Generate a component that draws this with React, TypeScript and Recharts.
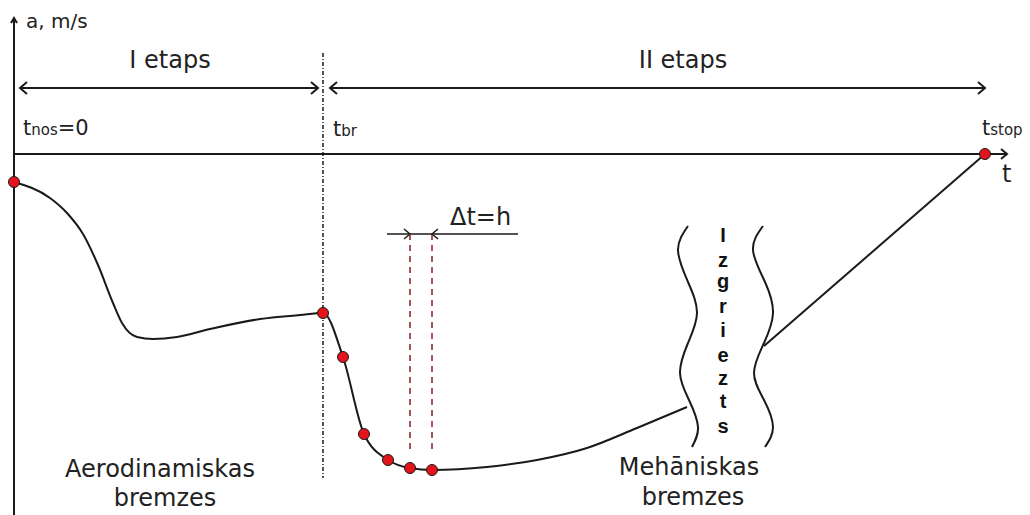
import { ComposedChart, Line, XAxis, YAxis, ReferenceLine, Customized } from 'recharts';

// time axis (t) and acceleration axis (a), schematic units
const T_DOMAIN: [number, number] = [0, 986];
const A_DOMAIN: [number, number] = [-361, 134];

// stage 1 + start of stage 2 (smooth curve up to the cut)
const curveT = [0, 36, 53, 69, 84, 99, 108, 123, 139, 163, 196, 246, 286, 309, 329, 350, 374, 396, 418, 473, 523, 573, 623, 673];
const curveA = [-28, -44, -59, -80, -111, -149, -169, -183, -185, -183, -175, -165, -161, -159, -203, -280, -306, -314, -316, -313, -306, -294, -274, -253];

// after the cut, straight to stop
const tailT = [750, 971];
const tailA = [-192, 0];

// computed points (red markers)
const markT = [0, 309, 329, 350, 374, 396, 418, 971];
const markA = [-28, -159, -203, -280, -306, -314, -316, 0];

// wavy "cut" marks
const waveLeftT = [674, 664, 674, 683, 674, 666, 675, 684, 678];
const waveRightT = [749, 739, 751, 759, 750, 740, 750, 759, 751];
const waveA = [-72, -96, -128, -159, -189, -219, -246, -273, -293];

const cutLetters = ['I', 'z', 'g', 'r', 'i', 'e', 'z', 't', 's'];
const cutLetterA = [-88, -113, -134, -159, -183, -208, -231, -254, -279];

const zip = (ts: number[], as: number[]) => ts.map((t, i) => ({ t, a: as[i] }));
const curveData = zip(curveT, curveA);
const tailData = zip(tailT, tailA);
const markData = zip(markT, markA);
const waveLeft = zip(waveLeftT, waveA);
const waveRight = zip(waveRightT, waveA);

const W = 1030;
const H = 515;
const MARGIN = { top: 20, right: 30, bottom: 0, left: 14 };

const px = (t: number) =>
  MARGIN.left + ((t - T_DOMAIN[0]) / (T_DOMAIN[1] - T_DOMAIN[0])) * (W - MARGIN.left - MARGIN.right);
const py = (a: number) =>
  MARGIN.top + ((A_DOMAIN[1] - a) / (A_DOMAIN[1] - A_DOMAIN[0])) * (H - MARGIN.top - MARGIN.bottom);

const INK = '#1a1a1a';
const TEXT = '#222';
const FONT = '"DejaVu Sans", Verdana, sans-serif';

function chevron(t: number, a: number, dir: 'left' | 'right' | 'up', len = 7, half = 6) {
  const x = px(t);
  const y = py(a);
  if (dir === 'up') return `M${x - half},${y + len} L${x},${y} L${x + half},${y + len}`;
  const s = dir === 'right' ? -1 : 1;
  return `M${x + s * len},${y - half} L${x},${y} L${x + s * len},${y + half}`;
}

function Sub({ t, a, sub, rest }: { t: number; a: number; sub: string; rest?: string }) {
  return (
    <text x={px(t)} y={py(a)} fill={TEXT} fontFamily={FONT} fontSize={21}>
      t<tspan fontSize={15}>{sub}</tspan>
      {rest}
    </text>
  );
}

function Overlay() {
  const label = { fill: TEXT, fontFamily: FONT, fontSize: 24 };
  return (
    <g>
      {/* axis arrowheads */}
      <path d={chevron(0, 136, 'up', 5, 3)} stroke={INK} strokeWidth={2} fill="none" />
      <path d={chevron(993, 0, 'right', 6, 5)} stroke={INK} strokeWidth={2} fill="none" />
      {/* stage arrows */}
      <path d={chevron(6, 66, 'left')} stroke={INK} strokeWidth={2} fill="none" />
      <path d={chevron(304, 66, 'right')} stroke={INK} strokeWidth={2} fill="none" />
      <path d={chevron(316, 66, 'left')} stroke={INK} strokeWidth={2} fill="none" />
      <path d={chevron(971, 66, 'right')} stroke={INK} strokeWidth={2} fill="none" />
      {/* step size arrows */}
      <path d={chevron(396, -80, 'right', 6, 5)} stroke={INK} strokeWidth={1.5} fill="none" />
      <path d={chevron(418, -80, 'left', 6, 5)} stroke={INK} strokeWidth={1.5} fill="none" />

      <text x={px(12)} y={py(126)} fill={TEXT} fontFamily={FONT} fontSize={20}>a, m/s</text>
      <text x={px(156)} y={py(86)} textAnchor="middle" {...label}>I etaps</text>
      <text x={px(669)} y={py(86)} textAnchor="middle" {...label}>II etaps</text>
      <Sub t={9} a={19} sub="nos" rest="=0" />
      <Sub t={319} a={18} sub="br" />
      <Sub t={968} a={19} sub="stop" />
      <text x={px(988)} y={py(-28)} {...label}>t</text>
      <text x={px(436)} y={py(-71)} {...label}>Δt=h</text>
      <text x={px(146)} y={py(-323)} textAnchor="middle" {...label}>Aerodinamiskas</text>
      <text x={px(151)} y={py(-352)} textAnchor="middle" {...label}>bremzes</text>
      <text x={px(675)} y={py(-321)} textAnchor="middle" {...label}>Mehāniskas</text>
      <text x={px(679)} y={py(-351)} textAnchor="middle" {...label}>bremzes</text>
      {cutLetters.map((ch, i) => (
        <text
          key={i}
          x={px(709)}
          y={py(cutLetterA[i])}
          textAnchor="middle"
          fill="#111"
          fontFamily='"Liberation Sans", Arial, sans-serif'
          fontWeight="bold"
          fontSize={20}
        >
          {ch}
        </text>
      ))}
    </g>
  );
}

export default function App() {
  return (
    <div style={{ position: 'absolute', left: 0, top: 0, width: W, height: H, background: '#fff' }}>
      <ComposedChart width={W} height={H} margin={MARGIN}>
        <XAxis type="number" dataKey="t" domain={T_DOMAIN} hide />
        <YAxis type="number" dataKey="a" domain={A_DOMAIN} hide />

        {/* axes */}
        <ReferenceLine ifOverflow="visible" segment={[{ x: 0, y: -361 }, { x: 0, y: 136 }]} stroke={INK} strokeWidth={2} />
        <ReferenceLine ifOverflow="visible" segment={[{ x: 0, y: 0 }, { x: 993, y: 0 }]} stroke={INK} strokeWidth={2} />
        {/* stage boundary */}
        <ReferenceLine ifOverflow="visible" segment={[{ x: 309, y: 101 }, { x: 309, y: -324 }]} stroke={INK} strokeWidth={1.5} strokeDasharray="4 2 1 2" />
        {/* stage arrows */}
        <ReferenceLine ifOverflow="visible" segment={[{ x: 6, y: 66 }, { x: 304, y: 66 }]} stroke={INK} strokeWidth={2} />
        <ReferenceLine ifOverflow="visible" segment={[{ x: 316, y: 66 }, { x: 971, y: 66 }]} stroke={INK} strokeWidth={2} />
        {/* step h */}
        <ReferenceLine ifOverflow="visible" segment={[{ x: 373, y: -80 }, { x: 504, y: -80 }]} stroke={INK} strokeWidth={1.5} />
        <ReferenceLine ifOverflow="visible" segment={[{ x: 396, y: -80 }, { x: 396, y: -300 }]} stroke="#8a1c1c" strokeWidth={1.5} strokeDasharray="6 5" />
        <ReferenceLine ifOverflow="visible" segment={[{ x: 418, y: -80 }, { x: 418, y: -300 }]} stroke="#8a1c1c" strokeWidth={1.5} strokeDasharray="6 5" />

        <Line data={curveData} dataKey="a" type="monotone" stroke={INK} strokeWidth={2} dot={false} isAnimationActive={false} />
        <Line data={tailData} dataKey="a" type="linear" stroke={INK} strokeWidth={2} dot={false} isAnimationActive={false} />
        <Line data={waveLeft} dataKey="a" type="natural" stroke={INK} strokeWidth={2} dot={false} isAnimationActive={false} />
        <Line data={waveRight} dataKey="a" type="natural" stroke={INK} strokeWidth={2} dot={false} isAnimationActive={false} />
        <Line
          data={markData}
          dataKey="a"
          stroke="none"
          dot={{ r: 5.5, fill: '#e3141b', stroke: INK, strokeWidth: 1 }}
          isAnimationActive={false}
        />
        <Customized component={Overlay} />
      </ComposedChart>
    </div>
  );
}
